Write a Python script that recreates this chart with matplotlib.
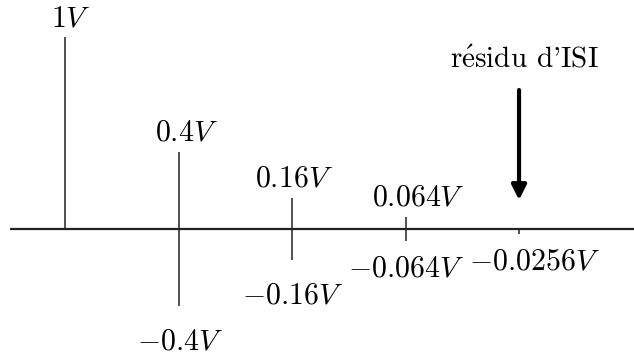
import matplotlib.pyplot as plt

# Computer Modern look, like the LaTeX original
plt.rcParams['mathtext.fontset'] = 'cm'
plt.rcParams['font.family'] = ['cmr10', 'DejaVu Serif']

# pulse index, and how far each pulse goes above / below the axis (in V)
n = [1, 2, 3, 4, 5]
v_haut = [1, 0.4, 0.16, 0.064, 0]
v_bas = [0, -0.4, -0.16, -0.064, -0.0256]
lab_haut = [r'$1V$', r'$0.4V$', r'$0.16V$', r'$0.064V$', '']
lab_bas = ['', r'$-0.4V$', r'$-0.16V$', r'$-0.064V$', r'$-0.0256V$']

# label nudges in points (layout only)
dx_haut = [4, 6, 1.5, 9, 0]
dy_haut = [3, 4, 4, 4, 0]
dx_bas = [0, 1, 0.5, 0.5, 11]
dy_bas = [0, -16, -16, -10, -10]

fig = plt.figure(figsize=(6.34, 3.54), dpi=100)
ax = fig.add_axes([0, 0, 1, 1])
ax.set_xlim(0.427, 6.013)
ax.set_ylim(-0.651, 1.193)
ax.axis('off')

# horizontal axis
ax.plot([0.515, 6.013], [0, 0], color='#222222', lw=1.6, solid_capstyle='butt')

# the pulses
ax.vlines(n, v_bas, v_haut, color='#222222', lw=1.1)

for x, v, t, dx, dy in zip(n, v_haut, lab_haut, dx_haut, dy_haut):
    if t:
        ax.annotate(t, (x, v), xytext=(dx, dy), textcoords='offset points',
                    ha='center', va='bottom', fontsize=21.5)
for x, v, t, dx, dy in zip(n, v_bas, lab_bas, dx_bas, dy_bas):
    if t:
        ax.annotate(t, (x, v), xytext=(dx, dy), textcoords='offset points',
                    ha='center', va='top', fontsize=21.5)

# arrow pointing at the leftover ISI
x_isi = n[-1]
ax.annotate('', xy=(x_isi, 0.151), xytext=(x_isi, 0.724),
            arrowprops=dict(arrowstyle='-|>', lw=3, color='black',
                            mutation_scale=22, shrinkA=0, shrinkB=0))
ax.annotate(r"r$\mathrm{\acute{e}}$sidu d'ISI", (x_isi, 0.724), xytext=(4, 12),
            textcoords='offset points', ha='center', va='bottom', fontsize=21)

fig.savefig('out.png', dpi=100)
